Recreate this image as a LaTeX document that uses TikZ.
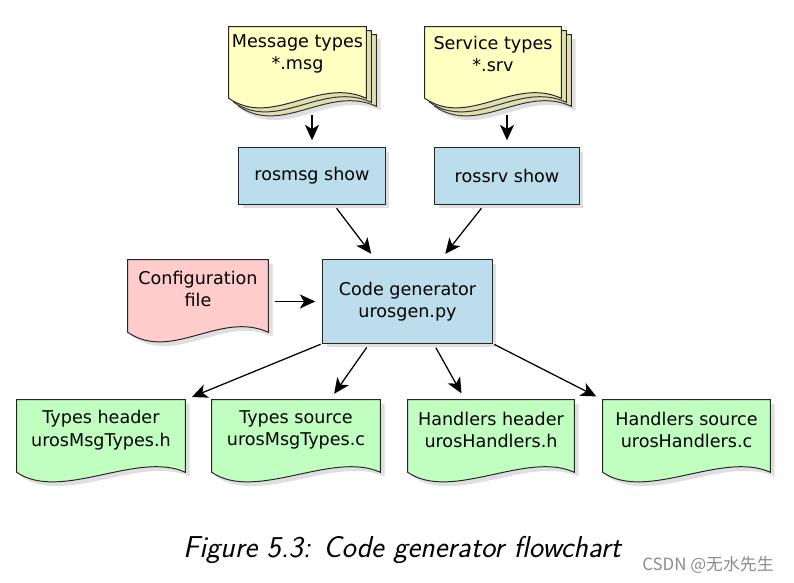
\documentclass[tikz,border=0pt]{standalone}
\usepackage{fontspec}
\setmainfont{DejaVu Sans}
\newfontfamily\cjkfont{Noto Sans CJK SC}
\usetikzlibrary{arrows.meta, shadows, backgrounds}
\definecolor{docyellow}{RGB}{255,255,194}
\definecolor{procblue}{RGB}{188,221,236}
\definecolor{cfgpink}{RGB}{255,204,204}
\definecolor{outgreen}{RGB}{193,255,193}
\tikzset{
    every node/.style={font=\fontsize{12.5pt}{16pt}\selectfont},
    proc/.style={
        rectangle,
        draw=black!85,
        line width=0.7pt,
        fill=procblue,
        drop shadow={opacity=0.25, shadow xshift=3pt, shadow yshift=-3pt}
    },
    doc/.style={align=center, inner sep=0pt},
    page/.style={
        draw=black!85,
        line width=0.7pt,
        drop shadow={opacity=0.25, shadow xshift=3pt, shadow yshift=-3pt}
    },
    every edge/.style={
        draw,
        -{Stealth[length=11pt,width=10pt,inset=3pt]},
        line width=0.9pt,
        shorten <=0.12cm,
        shorten >=0.18cm
    }
}
% #1 node, #2 depth of the wave below it, #3 fill, #4 offset of the sheet
\newcommand{\wavepage}[4]{%
    \draw[page, fill=#3] ([shift={#4}]#1.north west)
        -- ([shift={#4}, yshift=-#2]#1.south west)
        .. controls +(1.1cm,-0.75cm) and +(-1.2cm,0.55cm) .. ([shift={#4}, yshift=-#2]#1.south east)
        -- ([shift={#4}]#1.north east) -- cycle;}

\begin{document}
\begin{tikzpicture}[x=0.025cm, y=-0.025cm]
    \useasboundingbox (0,0) rectangle (794,583);
    % inputs
    \node[doc, minimum width=3.425cm, minimum height=1.35cm] (msgtypes) at (297.5,54) {Message types\\*.msg};
    \node[doc, minimum width=3.4cm, minimum height=1.35cm] (srvtypes) at (493,54) {Service types\\*.srv};
    \node[proc, minimum width=3.65cm, minimum height=1.4cm] (rosmsg) at (312,176) {rosmsg show};
    \node[proc, minimum width=3.6cm, minimum height=1.4cm] (rossrv) at (507,176) {rossrv show};
    \node[doc, minimum width=3.5cm, minimum height=1.45cm] (config) at (198,289) {Configuration\\file};
    \node[proc, minimum width=4.225cm, minimum height=2.075cm, align=center] (codegen) at (407.5,301.5) {Code generator\\urosgen.py};
    % outputs
    \node[doc, minimum width=4.2cm, minimum height=1.5cm] (typesh) at (101,430) {Types header\\urosMsgTypes.h};
    \node[doc, minimum width=4.2cm, minimum height=1.5cm] (typesc) at (296,430) {Types source\\urosMsgTypes.c};
    \node[doc, minimum width=4.15cm, minimum height=1.5cm] (handh) at (491,430) {Handlers header\\urosHandlers.h};
    \node[doc, minimum width=4.175cm, minimum height=1.5cm] (handc) at (686.5,430) {Handlers source\\urosHandlers.c};

    \node[font=\sffamily\itshape\fontsize{21.5pt}{24pt}\selectfont] (caption) at (402,550) {Figure 5.3: Code generator flowchart};
    \node[font=\cjkfont\fontsize{12pt}{14pt}\selectfont, text=black!45] (mark) at (708,565) {CSDN @无水先生};

    \begin{scope}[on background layer]
        \wavepage{msgtypes}{0.425cm}{docyellow}{(10,8)}
        \wavepage{msgtypes}{0.425cm}{docyellow}{(5,4)}
        \wavepage{msgtypes}{0.425cm}{docyellow}{(0,0)}
        \wavepage{srvtypes}{0.425cm}{docyellow}{(10,8)}
        \wavepage{srvtypes}{0.425cm}{docyellow}{(5,4)}
        \wavepage{srvtypes}{0.425cm}{docyellow}{(0,0)}
        \wavepage{config}{0.35cm}{cfgpink}{(0,0)}
        \foreach \n in {typesh, typesc, handh, handc}
            \wavepage{\n}{0.3cm}{outgreen}{(0,0)};
    \end{scope}

    \draw
    (msgtypes.south -| rosmsg.north) edge[shorten <=0.85cm] (rosmsg.north)
    (srvtypes.south -| rossrv.north) edge[shorten <=0.85cm] (rossrv.north)
    (rosmsg) edge (codegen)
    (rossrv) edge (codegen)
    (config.east |- codegen.west) edge[shorten <=0.175cm] (codegen.west)
    (codegen.south west) edge[shorten <=0.05cm] (typesh.north east)
    ([xshift=-0.95cm]codegen.south) edge ([xshift=0.85cm]typesc.north)
    ([xshift=0.65cm]codegen.south) edge ([xshift=-0.65cm]handh.north)
    (codegen.south east) edge[shorten <=0.05cm] (handc.north west);
\end{tikzpicture}
\end{document}
